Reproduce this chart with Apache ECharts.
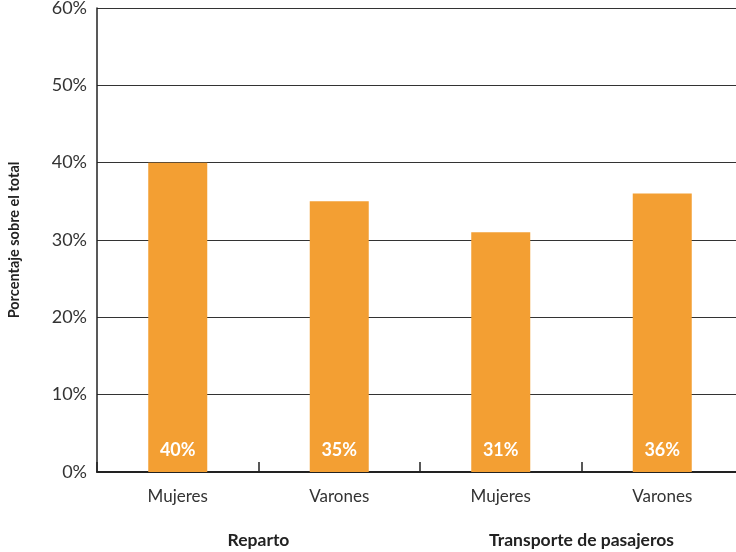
<!DOCTYPE html>
<html>
<head>
<meta charset="utf-8">
<script src="https://cdn.jsdelivr.net/npm/echarts@6/dist/echarts.min.js"></script>
<style>
  html, body { margin: 0; padding: 0; background: #fff; }
  #chart { width: 736px; height: 552px; }
</style>
</head>
<body>
<div id="chart"></div>
<script>
// Share of workers by gender in two platform-work sectors
const categories = ['Mujeres', 'Varones', 'Mujeres', 'Varones'];
const groups = ['Reparto', 'Transporte de pasajeros'];
const values = [40, 35, 31, 36];
const yTicks = [0, 10, 20, 30, 40, 50, 60];

const FONT = 'Lato, "Noto Sans", sans-serif';
const chart = echarts.init(document.getElementById('chart'), null, { renderer: 'canvas' });

chart.setOption({
  animation: false,
  textStyle: { fontFamily: FONT },
  grid: {
    left: 97, top: 8, width: 646, height: 464,
    containLabel: false,
    outerBoundsMode: 'none'
  },
  xAxis: [
    {
      type: 'category',
      data: categories,
      axisLine: { lineStyle: { color: '#222', width: 2 } },
      axisTick: { show: true, inside: true, length: 10, lineStyle: { color: '#222', width: 1.5 } },
      axisLabel: { color: '#333', fontSize: 17, margin: 16, fontFamily: FONT }
    },
    {
      type: 'category',
      data: groups,
      position: 'bottom',
      offset: 51,
      axisLine: { show: false },
      axisTick: { show: false },
      axisLabel: { color: '#222', fontSize: 17.5, fontWeight: 'bold', fontFamily: FONT }
    }
  ],
  yAxis: {
    type: 'value',
    min: yTicks[0],
    max: yTicks[yTicks.length - 1],
    interval: 10,
    name: 'Porcentaje sobre el total',
    nameLocation: 'middle',
    nameGap: 75,
    nameTextStyle: { color: '#222', fontSize: 14.5, fontWeight: 'bold', fontFamily: FONT },
    axisLine: { show: true, lineStyle: { color: '#222', width: 1.5 } },
    axisTick: { show: false },
    axisLabel: { color: '#333', fontSize: 18, margin: 10, formatter: '{value}%', fontFamily: FONT },
    splitLine: { lineStyle: { color: '#333', width: 1 } }
  },
  series: [
    {
      type: 'bar',
      xAxisIndex: 0,
      data: values,
      barWidth: 59,
      itemStyle: { color: '#F39F33' },
      label: {
        show: true,
        position: 'insideBottom',
        distance: 13,
        color: '#fff',
        fontSize: 18,
        fontWeight: 'bold',
        fontFamily: FONT,
        formatter: '{c}%'
      }
    }
  ]
});
</script>
</body>
</html>
